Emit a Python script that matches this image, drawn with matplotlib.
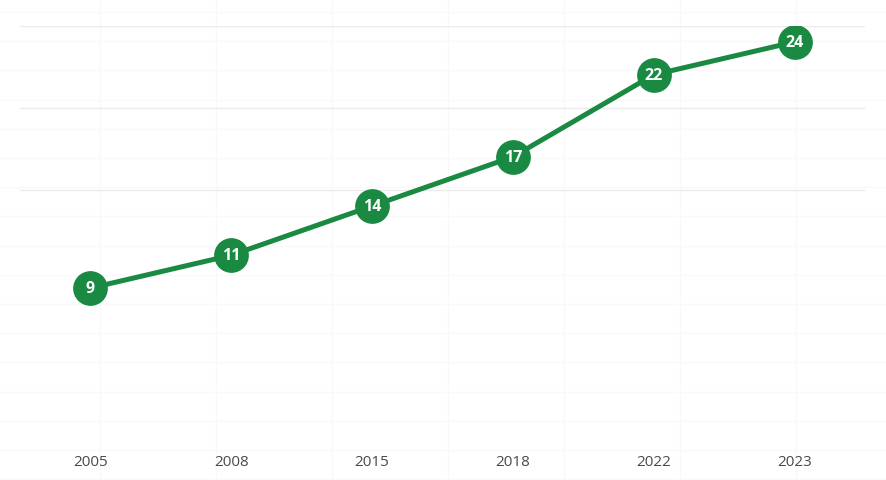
import numpy as np
import matplotlib.pyplot as plt

years = ['2005', '2008', '2015', '2018', '2022', '2023']
values = [9, 11, 14, 17, 22, 24]
grid_levels = [15, 20, 25]

green = '#1a8a43'

fig = plt.figure(figsize=(8.86, 4.81), dpi=100)

# faint page grid behind everything
bg = fig.add_axes([0, 0, 1, 1], zorder=0)
bg.set_xlim(0, 886)
bg.set_ylim(481, 0)
bg.set_xticks(np.arange(100, 886, 116))
bg.set_yticks(np.arange(13, 481, 29.2))
bg.grid(True, color='#f9f9f9', lw=1)
bg.tick_params(length=0, labelbottom=False, labelleft=False)
for s in bg.spines.values():
    s.set_visible(False)

# main chart
ax = fig.add_axes([20/886, 1 - 445/481, 845/886, 418.5/481], zorder=1)
ax.patch.set_alpha(0)
x = np.arange(len(years))
ax.plot(x, values, color=green, lw=3.6, solid_capstyle='round', zorder=3)
ax.plot(x, values, 'o', ms=24, color=green, zorder=4)
for xi, v in zip(x, values):
    ax.text(xi, v, str(v), ha='center', va='center', color='white',
            fontsize=11.5, fontweight='bold', family='Open Sans', zorder=5)

ax.set_xlim(-0.5, len(years) - 0.5)
ax.set_ylim(-0.5, 25)
ax.set_yticks(grid_levels)
ax.yaxis.grid(True, color='#ebebeb', lw=1)
ax.set_axisbelow(True)
ax.set_xticks(x)
ax.set_xticklabels(years, family='Open Sans', fontsize=11, color='#4a4a4a')
ax.tick_params(axis='x', length=0, pad=7)
ax.tick_params(axis='y', length=0, labelleft=False)
for s in ax.spines.values():
    s.set_visible(False)

fig.savefig('out.png', dpi=100)
